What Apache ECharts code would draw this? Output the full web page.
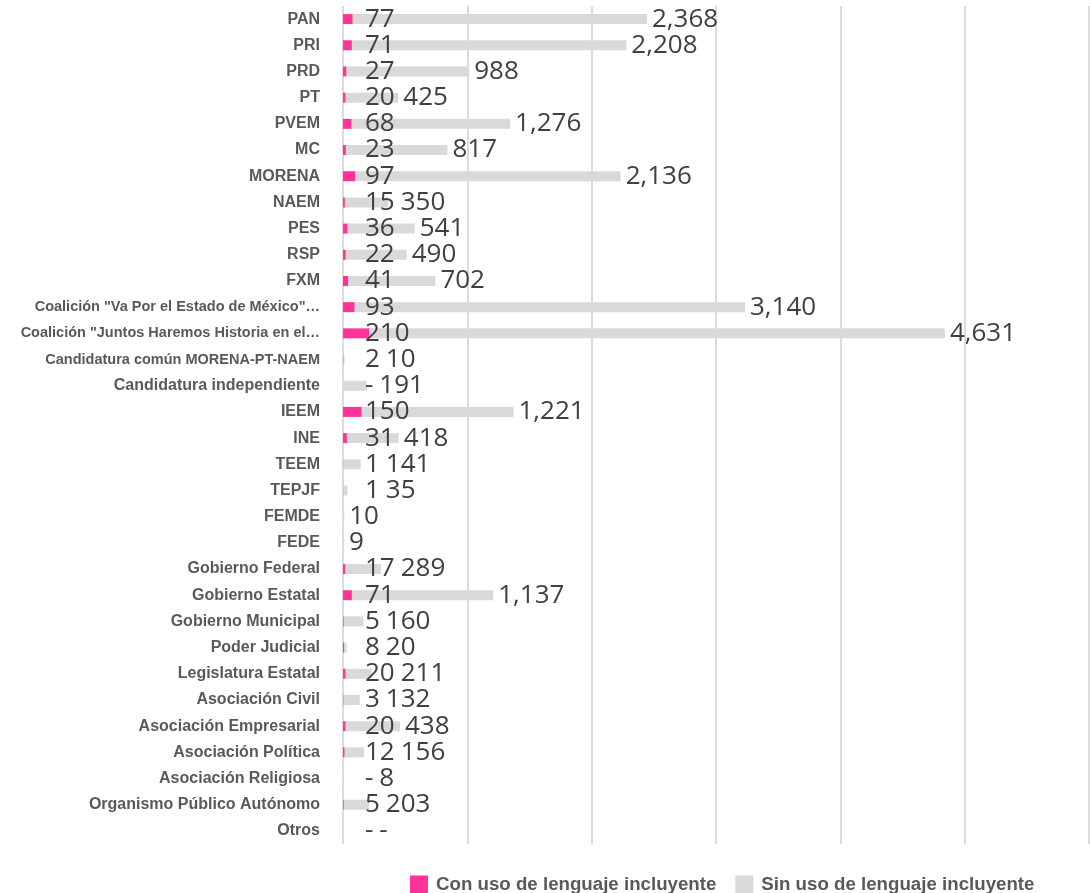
<!DOCTYPE html>
<html>
<head>
<meta charset="utf-8">
<script src="https://cdn.jsdelivr.net/npm/echarts@6/dist/echarts.min.js"></script>
<style>
  html, body { margin: 0; padding: 0; background: #fff; }
  #main { width: 1090px; height: 893px; }
</style>
</head>
<body>
<div id="main"></div>
<script>
// categorias (de arriba hacia abajo)
var categories = [
  'PAN', 'PRI', 'PRD', 'PT', 'PVEM', 'MC', 'MORENA', 'NAEM', 'PES', 'RSP', 'FXM',
  'Coalición "Va Por el Estado de México"…',
  'Coalición "Juntos Haremos Historia en el…',
  'Candidatura común MORENA-PT-NAEM',
  'Candidatura independiente',
  'IEEM', 'INE', 'TEEM', 'TEPJF', 'FEMDE', 'FEDE',
  'Gobierno Federal', 'Gobierno Estatal', 'Gobierno Municipal', 'Poder Judicial',
  'Legislatura Estatal', 'Asociación Civil', 'Asociación Empresarial',
  'Asociación Política', 'Asociación Religiosa', 'Organismo Público Autónomo', 'Otros'
];
// con uso de lenguaje incluyente
var conUso = [77, 71, 27, 20, 68, 23, 97, 15, 36, 22, 41, 93, 210, 2, 0, 150, 31, 1, 1, null, null,
  17, 71, 5, 8, 20, 3, 20, 12, 0, 5, 0];
// sin uso de lenguaje incluyente
var sinUso = [2368, 2208, 988, 425, 1276, 817, 2136, 350, 541, 490, 702, 3140, 4631, 10, 191, 1221, 418, 141, 35, 10, 9,
  289, 1137, 160, 20, 211, 132, 438, 156, 8, 203, 0];
var seriesNames = ['Con uso de lenguaje incluyente', 'Sin uso de lenguaje incluyente'];

var textFont = '"Liberation Sans", Arial, sans-serif';
var numFont = '"Open Sans", sans-serif';
var gridLeft = 343;
var pinkOffset = 22;

var ctx = document.createElement('canvas').getContext('2d');
function textWidth(s, font) {
  ctx.font = font;
  return ctx.measureText(s).width;
}

function fmt(v) {
  if (v == null) return '';
  return v === 0 ? '-' : v.toLocaleString('en-US');
}

var chart = echarts.init(document.getElementById('main'));
chart.setOption({
  animation: false,
  backgroundColor: '#fff',
  grid: { left: gridLeft, right: 1, top: 6, bottom: 49, outerBoundsMode: 'none' },
  legend: {
    left: 405,
    top: 870,
    itemWidth: 18,
    itemHeight: 18,
    itemGap: 19,
    icon: 'rect',
    textStyle: {
      fontFamily: textFont, fontWeight: 'bold', fontSize: 18.7, color: '#595959',
      padding: [0, 0, 0, 3]
    },
    data: seriesNames
  },
  xAxis: {
    type: 'value',
    min: 0,
    max: 6000,
    interval: 1000,
    axisLabel: { show: false },
    axisTick: { show: false },
    axisLine: { show: false },
    splitLine: { show: true, lineStyle: { color: '#dcdcdc', width: 2 } }
  },
  yAxis: {
    type: 'category',
    inverse: true,
    data: categories,
    axisLine: { show: false },
    axisTick: { show: false },
    axisLabel: {
      margin: 23,
      fontFamily: textFont,
      fontWeight: 'bold',
      fontSize: 16,
      color: '#595959',
      // las etiquetas largas van un poco mas chicas
      formatter: function (v) {
        return textWidth(v, 'bold 16px "Liberation Sans"') > 300 ? '{sm|' + v + '}' : v;
      },
      rich: {
        sm: { fontFamily: textFont, fontWeight: 'bold', fontSize: 14.5, color: '#595959' }
      }
    }
  },
  series: [
    {
      name: seriesNames[0],
      type: 'bar',
      stack: 'total',
      barWidth: 10,
      itemStyle: { color: '#ff339a' },
      data: conUso,
      label: {
        show: true,
        position: [pinkOffset, '50%'],
        verticalAlign: 'middle',
        align: 'left',
        fontFamily: numFont,
        fontSize: 26,
        color: '#404040',
        formatter: function (p) { return fmt(p.value); }
      },
      z: 3
    },
    {
      name: seriesNames[1],
      type: 'bar',
      stack: 'total',
      barWidth: 10,
      itemStyle: { color: '#d9d9d9' },
      data: sinUso,
      label: {
        show: true,
        position: 'right',
        distance: 5,
        verticalAlign: 'middle',
        fontFamily: numFont,
        fontSize: 26,
        color: '#404040',
        formatter: function (p) { return fmt(p.value); }
      },
      // keep gray labels clear of the pink ones
      labelLayout: function (p) {
        var pv = conUso[p.dataIndex];
        var minX = pv == null ? gridLeft
          : gridLeft + pinkOffset + textWidth(fmt(pv), '26px "Open Sans"') + 6;
        return { dx: Math.max(0, minX - p.labelRect.x) };
      }
    }
  ]
});
</script>
</body>
</html>
